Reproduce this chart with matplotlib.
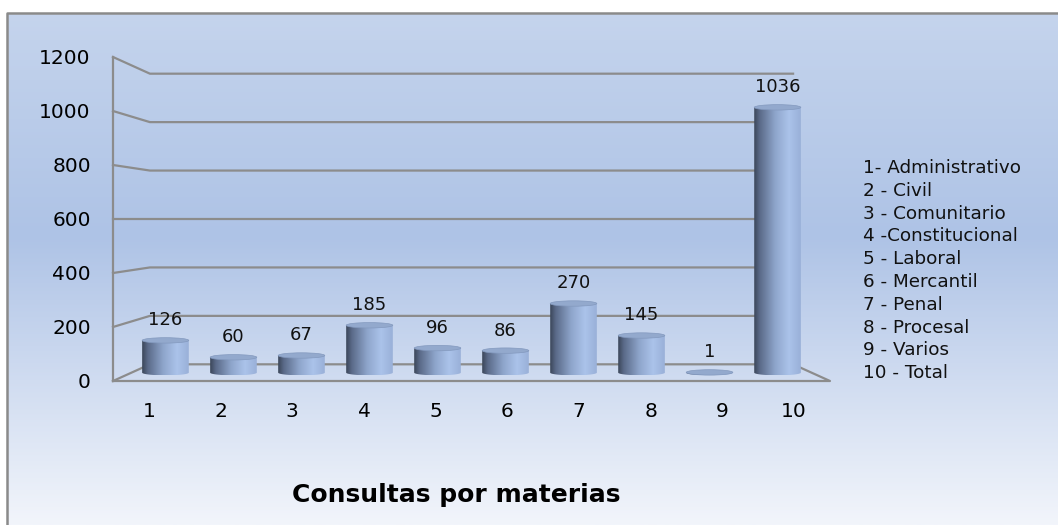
import numpy as np
import matplotlib.pyplot as plt
from matplotlib.colors import LinearSegmentedColormap
from matplotlib.patches import Ellipse, PathPatch
from matplotlib.path import Path
from matplotlib.lines import Line2D

# data
categorias = [1, 2, 3, 4, 5, 6, 7, 8, 9, 10]
consultas = [126, 60, 67, 185, 96, 86, 270, 145, 1, 1036]
leyenda = ['1- Administrativo', '2 - Civil', '3 - Comunitario', '4 -Constitucional',
           '5 - Laboral', '6 - Mercantil', '7 - Penal', '8 - Procesal', '9 - Varios',
           '10 - Total']
yticks = [0, 200, 400, 600, 800, 1000, 1200]
titulo = 'Consultas por materias'

# simple perspective: points further back shrink toward a vanishing point
UC, VC = 5.5, 600
SHRINK = 0.103


def proj(u, v, d):
    f = 1 - SHRINK * d
    return UC + f * (np.asarray(u) - UC), VC + f * (np.asarray(v) - VC)


fig = plt.figure(figsize=(10.58, 5.25), dpi=100)

# background gradient + frame
bg = fig.add_axes([0, 0, 1, 1])
bg_cmap = LinearSegmentedColormap.from_list(
    'bg', [(0, '#c6d5ed'), (0.45, '#aec3e6'), (1.0, '#f2f5fb')])
grad = np.linspace(0, 1, 256).reshape(-1, 1)
bg.imshow(grad, cmap=bg_cmap, aspect='auto', extent=(0, 1, 0, 1))
bg.set_xlim(0, 1)
bg.set_ylim(0, 1)
bg.axis('off')
x0, y0 = 7 / 1058, 1 - 13 / 525
bg.fill_between([0, 1], y0, 1, color='white', zorder=2)
bg.fill_between([0, x0], 0, 1, color='white', zorder=2)
bg.add_line(Line2D([x0, x0, 1], [0, y0, y0], color='#8a8a8a', lw=1.8, zorder=3))

ax = fig.add_axes([113 / 1058, 144 / 525, 717 / 1058, 324 / 525])
ax.patch.set_alpha(0)
for s in ax.spines.values():
    s.set_visible(False)

grid_col = '#8c8c8c'
for t in yticks:
    bx, by = proj([0.5, 10.5], [t, t], 1)
    ax.plot([0.5, bx[0], bx[1]], [t, by[0], by[1]], color=grid_col, lw=1.6,
            clip_on=False, zorder=1)
# floor front edge, right edge and left vertical edge
rx, ry = proj(10.5, 0, 1)
ax.plot([0.5, 10.5, rx], [0, 0, ry], color=grid_col, lw=1.6, clip_on=False, zorder=1)
ax.plot([0.5, 0.5], [0, 1200], color=grid_col, lw=1.6, clip_on=False, zorder=1)

# cylinders
cyl_cmap = LinearSegmentedColormap.from_list(
    'cyl', [(0, '#3b4659'), (0.12, '#5a6a88'), (0.45, '#8ea5cb'),
            (0.75, '#abc3ea'), (1.0, '#99b0d8')])
hgrad = np.linspace(0, 1, 128).reshape(1, -1)
w = 0.65
eh = 20

for cat, val in zip(categorias, consultas):
    xc, base = proj(cat, 0, 0.5)
    _, top = proj(cat, val, 0.5)
    t = np.linspace(0, np.pi, 40)
    xs = np.concatenate([[xc - w / 2], xc + w / 2 * np.cos(np.pi - t), [xc + w / 2]])
    ys = np.concatenate([[top], base - eh / 2 * np.sin(np.pi - t), [top]])
    verts = np.column_stack([xs, ys])
    verts = np.vstack([verts, verts[:1]])
    clip = PathPatch(Path(verts), transform=ax.transData, fc='none', ec='none')
    ax.add_patch(clip)
    im = ax.imshow(hgrad, cmap=cyl_cmap, aspect='auto', zorder=3,
                   extent=(xc - w / 2, xc + w / 2, base - eh / 2, top))
    im.set_clip_path(clip)
    ax.add_patch(Ellipse((xc, top), w, eh, fc='#93a9cd', ec='#8399be', lw=0.5,
                         zorder=4))
    ax.annotate(str(val), (xc, top), xytext=(0, 8), textcoords='offset points',
                ha='center', va='bottom', fontsize=13, color='#111111')

ax.set_xlim(0.5, 10.5)
ax.set_ylim(0, 1200)
ax.set_xticks(categorias)
ax.set_xticklabels([str(c) for c in categorias], fontsize=14.5)
ax.set_yticks(yticks)
ax.set_yticklabels([str(t) for t in yticks], fontsize=14.5)
ax.tick_params(axis='x', length=0, pad=15)
ax.tick_params(axis='y', length=0, pad=16)

for i, txt in enumerate(leyenda):
    fig.text(863 / 1058, 1 - (168 + 22.8 * i) / 525, txt, fontsize=13.2,
             ha='left', va='center', color='#111111')

fig.text(456 / 1058, 1 - 495 / 525, titulo, fontsize=18, fontweight='bold',
         ha='center', va='center')

fig.savefig('out.png', dpi=100)
